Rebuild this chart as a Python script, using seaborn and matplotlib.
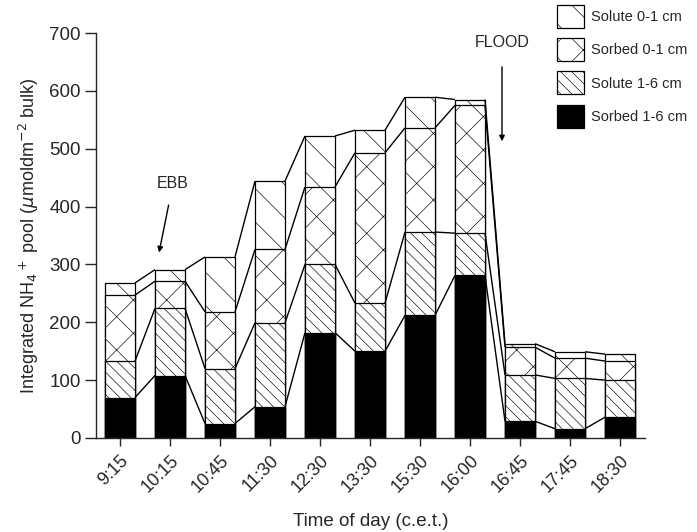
import numpy as np
import matplotlib
matplotlib.use("Agg")
import matplotlib.pyplot as plt
import seaborn as sns
from matplotlib.patches import Patch

times = ["9:15", "10:15", "10:45", "11:30", "12:30", "13:30", "15:30", "16:00", "16:45", "17:45", "18:30"]
sorbed_1_6 = [70, 108, 25, 54, 182, 150, 212, 281, 29, 16, 36]
solute_1_6 = [63, 116, 95, 145, 118, 83, 144, 73, 80, 87, 64]
sorbed_0_1 = [114, 47, 98, 127, 134, 260, 180, 221, 48, 35, 33]
solute_0_1 = [21, 20, 95, 118, 88, 39, 53, 10, 6, 11, 12]
labels = ["Solute 0-1 cm", "Sorbed 0-1 cm", "Solute 1-6 cm", "Sorbed 1-6 cm"]
y_ticks = [0, 100, 200, 300, 400, 500, 600, 700]

sns.set_style("ticks")
plt.rcParams["font.family"] = ["Liberation Sans", "DejaVu Sans"]
plt.rcParams["hatch.linewidth"] = 0.45
plt.rcParams["hatch.color"] = "#333333"

fig = plt.figure(figsize=(6.97, 5.32), dpi=100)
ax = fig.add_axes([96 / 697, 1 - 438 / 532, (645 - 96) / 697, (438 - 33) / 532])

c1 = np.array(sorbed_1_6)
c2 = c1 + np.array(solute_1_6)
c3 = c2 + np.array(sorbed_0_1)
c4 = c3 + np.array(solute_0_1)

bw = 0.6
layers = [(c4, "white", "\\"), (c3, "white", "x"), (c2, "white", "\\\\\\"), (c1, "black", "")]
for tops, col, h in layers:
    sns.barplot(x=times, y=tops, color=col, edgecolor="black", linewidth=0.9,
                hatch=h, width=bw, saturation=1, errorbar=None, ax=ax)

# connecting lines between bars
xs = np.arange(len(times))
for tops in (c1, c2, c3, c4):
    for i in range(len(times) - 1):
        ax.plot([xs[i] + bw / 2, xs[i + 1] - bw / 2], [tops[i], tops[i + 1]],
                color="black", lw=1.0, solid_capstyle="butt")

ax.set_xlim(-0.48, 10.5)
ax.set_ylim(0, 700)
ax.set_yticks(y_ticks)
ax.set_yticklabels([str(t) for t in y_ticks], fontsize=13.5)
ax.set_xticks(xs)
ax.set_xticklabels(times, rotation=45, ha="right", rotation_mode="anchor", fontsize=13)
ax.tick_params(axis="y", length=8, width=1, direction="out", pad=3)
ax.tick_params(axis="x", length=6, width=1, direction="out", pad=4)
for s in ("top", "right"):
    ax.spines[s].set_visible(False)
ax.spines["left"].set_linewidth(1)
ax.spines["bottom"].set_linewidth(1)

ax.set_ylabel(r"Integrated NH$_4$$^+$ pool ($\mu$moldm$^{-2}$ bulk)", fontsize=13, labelpad=6)
ax.set_xlabel("Time of day (c.e.t.)", fontsize=13.5, labelpad=12)

ax.annotate("EBB", xy=(0.77, 316), xytext=(1.06, 440), ha="center", va="center",
            fontsize=11.5, arrowprops=dict(arrowstyle="-|>", color="black", lw=1,
                                           mutation_scale=8, shrinkA=8))
ax.annotate("FLOOD", xy=(7.64, 508), xytext=(7.64, 684), ha="center", va="center",
            fontsize=11.5, arrowprops=dict(arrowstyle="-|>", color="black", lw=1,
                                           mutation_scale=8, shrinkA=10))

handles = [Patch(facecolor="white", edgecolor="black", hatch="\\", lw=0.9),
           Patch(facecolor="white", edgecolor="black", hatch="x", lw=0.9),
           Patch(facecolor="white", edgecolor="black", hatch="\\\\\\", lw=0.9),
           Patch(facecolor="black", edgecolor="black", lw=0.9)]
fig.legend(handles, labels, loc="upper left", bbox_to_anchor=(557 / 697, 1 - 5 / 532),
           frameon=False, prop={"family": ["Liberation Sans"], "size": 10.5},
           handlelength=1.85, handleheight=2.05,
           labelspacing=0.7, handletextpad=0.45, borderpad=0, borderaxespad=0)

fig.savefig("out.png", dpi=100)
